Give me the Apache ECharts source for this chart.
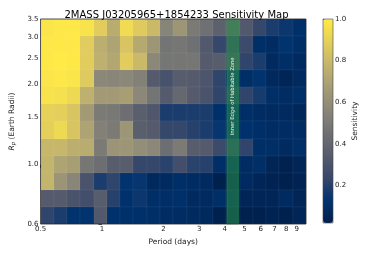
<!DOCTYPE html>
<html><head><meta charset="utf-8">
<script src="https://cdn.jsdelivr.net/npm/echarts@6/dist/echarts.min.js"></script>
<style>html,body{margin:0;padding:0;background:#fff;}#c{width:382px;height:255px;}</style>
</head><body><div id="c"></div>
<script>
// Period bin edges (days), log-spaced
const periodEdges = [0.5, 0.5808, 0.67465, 0.78366, 0.91029, 1.05738, 1.22824, 1.42671, 1.65725, 1.92505, 2.23611, 2.59745, 3.01717, 3.50471, 4.07104, 4.72888, 5.49303, 6.38065, 7.4117, 8.60935, 10.0];
// Radius bin edges (Earth radii), bottom to top
const radiusEdges = [0.6, 0.69499, 0.80503, 0.93248, 1.08012, 1.25113, 1.44922, 1.67868, 1.94446, 2.25232, 2.60893, 3.022, 3.5];
// Sensitivity values, rows from top (largest radius) to bottom, columns by period
const sensRow0  = [0.98,0.99,0.99,0.97,0.88,0.74,0.94,0.87,0.80,0.55,0.64,0.50,0.45,0.37,0.40,0.33,0.23,0.18,0.15,0.11];
const sensRow1  = [0.99,0.99,0.99,0.88,0.75,0.70,0.85,0.73,0.64,0.47,0.48,0.45,0.33,0.23,0.25,0.25,0.10,0.09,0.13,0.10];
const sensRow2  = [0.99,1.00,0.99,0.88,0.76,0.72,0.88,0.80,0.57,0.48,0.48,0.48,0.34,0.35,0.30,0.22,0.18,0.08,0.10,0.08];
const sensRow3  = [0.98,0.99,0.98,0.87,0.57,0.56,0.57,0.53,0.34,0.29,0.35,0.34,0.31,0.22,0.15,0.10,0.13,0.07,0.05,0.08];
const sensRow4  = [0.97,0.96,0.93,0.76,0.66,0.66,0.68,0.57,0.47,0.34,0.41,0.34,0.30,0.22,0.20,0.22,0.17,0.10,0.09,0.10];
const sensRow5  = [0.90,0.89,0.85,0.66,0.50,0.49,0.44,0.36,0.32,0.18,0.18,0.18,0.18,0.11,0.10,0.10,0.09,0.08,0.08,0.06];
const sensRow6  = [0.89,0.93,0.85,0.70,0.53,0.50,0.64,0.36,0.34,0.23,0.23,0.20,0.18,0.14,0.12,0.12,0.10,0.09,0.09,0.09];
const sensRow7  = [0.79,0.79,0.75,0.74,0.50,0.63,0.64,0.60,0.57,0.44,0.50,0.35,0.34,0.25,0.22,0.22,0.10,0.10,0.08,0.10];
const sensRow8  = [0.78,0.70,0.68,0.48,0.44,0.35,0.35,0.23,0.23,0.21,0.27,0.21,0.20,0.10,0.09,0.09,0.10,0.05,0.03,0.05];
const sensRow9  = [0.78,0.63,0.56,0.30,0.18,0.22,0.13,0.14,0.07,0.08,0.10,0.09,0.08,0.02,0.04,0.08,0.05,0.04,0.02,0.04];
const sensRow10 = [0.34,0.34,0.30,0.27,0.35,0.20,0.12,0.15,0.10,0.10,0.11,0.08,0.08,0.10,0.07,0.05,0.05,0.05,0.08,0.05];
const sensRow11 = [0.22,0.18,0.13,0.13,0.33,0.12,0.11,0.11,0.10,0.09,0.09,0.08,0.07,0.02,0.03,0.02,0.02,0.04,0.02,0.05];
const sensitivityRows = [sensRow0,sensRow1,sensRow2,sensRow3,sensRow4,sensRow5,sensRow6,sensRow7,sensRow8,sensRow9,sensRow10,sensRow11];

const periodTicks = [0.5, 1, 2, 3, 4, 5, 6, 7, 8, 9];
const periodTickLabels = ['0.5','1','2','3','4','5','6','7','8','9'];
const radiusTicks = [0.6, 1.0, 1.5, 2.0, 2.5, 3.0, 3.5];
const radiusTickLabels = ['0.6','1.0','1.5','2.0','2.5','3.0','3.5'];
const colorbarTicks = [0.2, 0.4, 0.6, 0.8, 1.0];
const colorbarLabels = ['0.2','0.4','0.6','0.8','1.0'];
const sensMin = 0.02, sensMax = 1.0;
const hzBand = [4.1, 4.66];
const hzLabelRadius = 1.8;
const hzLabel = 'Inner Edge of Habitable Zone';
const cividis = ['#00204D','#00336F','#39486B','#575C6D','#707173','#8A8779','#A69D75','#C4B56C','#E4CF5B','#FFEA46'];

const L = Math.log10;
const FONT = 'DejaVu Sans';
const cells = [];
sensitivityRows.forEach((row, r) => {
  const j = radiusEdges.length - 2 - r;
  row.forEach((v, i) => {
    cells.push([L(periodEdges[i]), L(periodEdges[i+1]), L(radiusEdges[j]), L(radiusEdges[j+1]), v]);
  });
});
function lookup(v, ticks, labels){
  for (let i=0;i<ticks.length;i++) if (Math.abs(L(ticks[i]) - v) < 1e-6) return labels[i];
  return '';
}
const chart = echarts.init(document.getElementById('c'), null, {renderer:'canvas'});
chart.setOption({
  animation: false,
  title: {text: '2MASS J03205965+1854233 Sensitivity Map', left: 171.5, top: 5, textAlign: 'center',
    textStyle: {fontFamily: FONT, fontSize: 10, fontWeight: 'normal', color: '#000'}},
  grid: [
    {left: 37, top: 19, width: 269, height: 205, show: true, borderColor: '#222', borderWidth: 0.8, backgroundColor: 'transparent', z: 10},
    {left: 323, top: 19, width: 10, height: 204, show: true, borderColor: '#444', borderWidth: 0.6, backgroundColor: 'transparent', z: 10}
  ],
  xAxis: [
    {type: 'value', gridIndex: 0, min: L(periodEdges[0]), max: L(periodEdges[periodEdges.length-1]),
     axisLine: {show: false}, splitLine: {show: false},
     axisTick: {show: true, customValues: periodTicks.map(L), length: 3.5, lineStyle: {color: '#222', width: 0.8}},
     axisLabel: {customValues: periodTicks.map(L), formatter: v => lookup(v, periodTicks, periodTickLabels), fontFamily: FONT, fontSize: 7, color: '#222', margin: 2},
     name: 'Period (days)', nameLocation: 'middle', nameGap: 13, nameTextStyle: {fontFamily: FONT, fontSize: 7.5, color: '#222'}},
    {type: 'value', gridIndex: 1, show: false, min: 0, max: 1}
  ],
  yAxis: [
    {type: 'value', gridIndex: 0, min: L(radiusEdges[0]), max: L(radiusEdges[radiusEdges.length-1]),
     axisLine: {show: false}, splitLine: {show: false},
     axisTick: {show: true, customValues: radiusTicks.map(L), length: 3.5, lineStyle: {color: '#222', width: 0.8}},
     axisLabel: {customValues: radiusTicks.map(L), formatter: v => lookup(v, radiusTicks, radiusTickLabels), fontFamily: FONT, fontSize: 7, color: '#222', margin: 2},
     name: '{i|R}{s|p} (Earth Radii)', nameLocation: 'middle', nameGap: 20, nameRotate: 90,
     nameTextStyle: {fontFamily: FONT, fontSize: 7.5, color: '#222',
       rich: {i: {fontFamily: FONT, fontStyle: 'italic', fontSize: 7.5, color: '#222'},
              s: {fontFamily: FONT, fontStyle: 'italic', fontSize: 5.5, color: '#222', verticalAlign: 'bottom', padding: [3,0,0,0]}}}},
    {type: 'value', gridIndex: 1, position: 'right', min: sensMin, max: sensMax,
     axisLine: {show: false}, splitLine: {show: false},
     axisTick: {show: true, customValues: colorbarTicks, length: 3, lineStyle: {color: '#222', width: 0.8}},
     axisLabel: {customValues: colorbarTicks, formatter: v => { const k = colorbarTicks.findIndex(t => Math.abs(t - v) < 1e-6); return k >= 0 ? colorbarLabels[k] : ''; }, fontFamily: FONT, fontSize: 7, color: '#222', margin: 2},
     name: 'Sensitivity', nameLocation: 'middle', nameGap: 18, nameRotate: 90,
     nameTextStyle: {fontFamily: FONT, fontSize: 7.5, color: '#222'}}
  ],
  visualMap: {type: 'continuous', min: sensMin, max: sensMax, dimension: 4, seriesIndex: 0,
    inRange: {color: cividis}, orient: 'vertical', left: 323, top: 19, itemWidth: 10, itemHeight: 204,
    padding: 0, calculable: false, hoverLink: false, showLabel: false, text: null},
  series: [
    {type: 'custom', xAxisIndex: 0, yAxisIndex: 0, data: cells, encode: {x: [0,1], y: [2,3]},
     renderItem: (params, api) => {
       const p0 = api.coord([api.value(0), api.value(2)]);
       const p1 = api.coord([api.value(1), api.value(3)]);
       const x0 = Math.round(p0[0]), x1 = Math.round(p1[0]), y0 = Math.round(p0[1]), y1 = Math.round(p1[1]);
       return {type: 'rect', shape: {x: x0, y: y1, width: x1 - x0, height: y0 - y1},
               style: {fill: api.visual('color'), stroke: 'rgba(255,255,255,0.07)', lineWidth: 0.6}};
     }},
    {type: 'custom', xAxisIndex: 0, yAxisIndex: 0, z: 5, data: [[L(hzBand[0]), L(hzBand[1]), L(hzLabelRadius)]], encode: {x: [0,1], y: 2},
     renderItem: (params, api) => {
       const a = api.coord([api.value(0), L(radiusEdges[radiusEdges.length-1])]);
       const b = api.coord([api.value(1), L(radiusEdges[0])]);
       const t = api.coord([(api.value(0) + api.value(1)) / 2, api.value(2)]);
       return {type: 'group', children: [
         {type: 'rect', shape: {x: a[0], y: a[1], width: b[0] - a[0], height: b[1] - a[1]},
          style: {fill: 'rgba(40,145,70,0.55)', stroke: 'rgba(40,160,70,0.6)', lineWidth: 0.8}},
         {type: 'text', x: t[0], y: t[1], rotation: Math.PI / 2,
          style: {text: hzLabel, fill: '#f0f4f0', fontSize: 5.3, fontFamily: FONT, align: 'center', verticalAlign: 'middle'}}
       ]};
     }}
  ]
});
</script></body></html>
